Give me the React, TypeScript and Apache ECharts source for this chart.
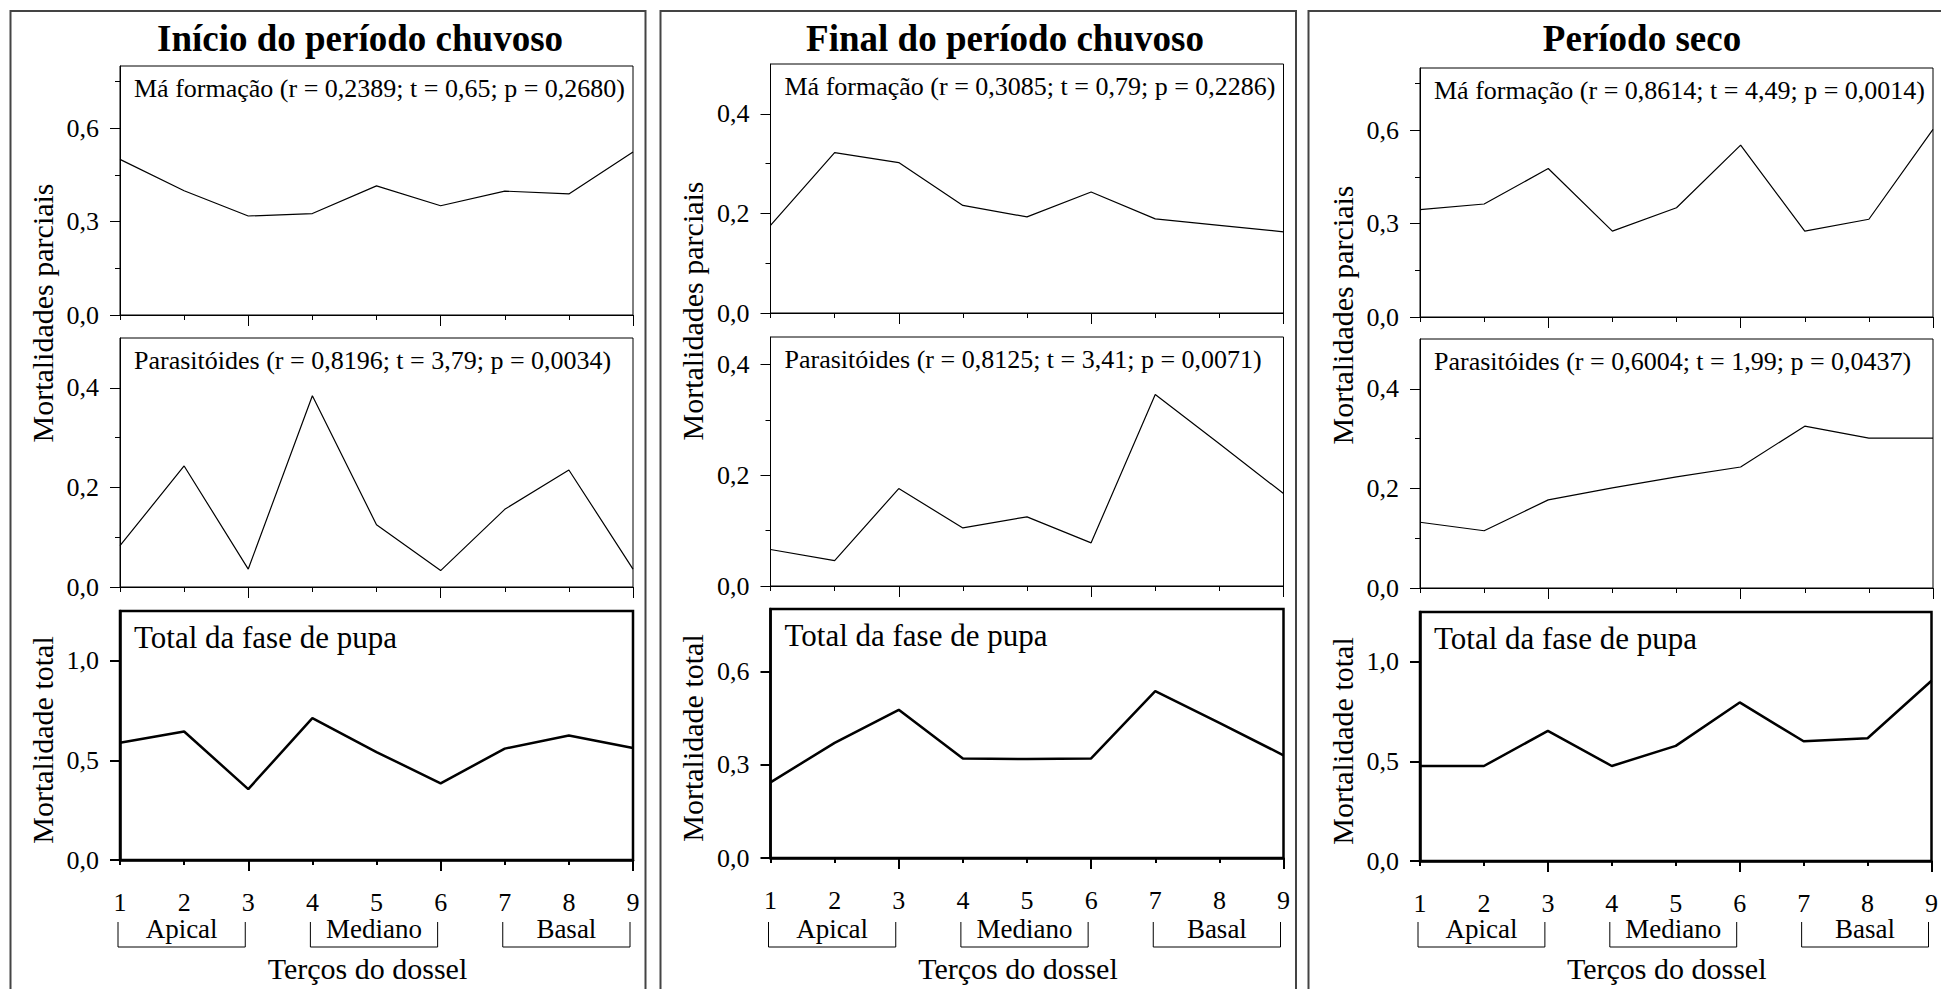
import React, { useEffect, useRef } from 'react';
import * as echarts from 'echarts';

// ---------- data ----------
const TERCOS = [1, 2, 3, 4, 5, 6, 7, 8, 9];
const PERIODOS = ['Início do período chuvoso', 'Final do período chuvoso', 'Período seco'];
const GRUPOS = ['Apical', 'Mediano', 'Basal'];
const GRUPO_LIMITES = [[1, 3], [4, 6], [7, 9]];
const EIXO_X_NOME = 'Terços do dossel';
const EIXO_Y_PARCIAL = 'Mortalidades parciais';
const EIXO_Y_TOTAL = 'Mortalidade total';
const TITULO_TOTAL = 'Total da fase de pupa';

const inicioMaFormacao = [0.5, 0.399, 0.318, 0.326, 0.415, 0.351, 0.398, 0.389, 0.524];
const inicioParasitoides = [0.083, 0.243, 0.036, 0.384, 0.125, 0.033, 0.156, 0.235, 0.036];
const inicioTotal = [0.589, 0.645, 0.356, 0.712, 0.542, 0.385, 0.559, 0.625, 0.562];

const finalMaFormacao = [0.176, 0.322, 0.302, 0.216, 0.193, 0.243, 0.189, 0.176, 0.163];
const finalParasitoides = [0.066, 0.046, 0.176, 0.105, 0.125, 0.078, 0.346, 0.257, 0.167];
const finalTotal = [0.243, 0.37, 0.476, 0.32, 0.318, 0.32, 0.536, 0.434, 0.33];

const secoMaFormacao = [0.345, 0.363, 0.477, 0.276, 0.351, 0.552, 0.276, 0.314, 0.603];
const secoParasitoides = [0.132, 0.115, 0.177, 0.201, 0.223, 0.243, 0.325, 0.301, 0.301];
const secoTotal = [0.477, 0.477, 0.653, 0.477, 0.578, 0.796, 0.601, 0.616, 0.905];

const ROTULOS_MA = [
  'Má formação (r = 0,2389; t = 0,65; p = 0,2680)',
  'Má formação (r = 0,3085; t = 0,79; p = 0,2286)',
  'Má formação (r = 0,8614; t = 4,49; p = 0,0014)',
];
const ROTULOS_PAR = [
  'Parasitóides (r = 0,8196; t = 3,79; p = 0,0034)',
  'Parasitóides (r = 0,8125; t = 3,41; p = 0,0071)',
  'Parasitóides (r = 0,6004; t = 1,99; p = 0,0437)',
];

const SERIES = [
  [inicioMaFormacao, inicioParasitoides, inicioTotal],
  [finalMaFormacao, finalParasitoides, finalTotal],
  [secoMaFormacao, secoParasitoides, secoTotal],
];

// y scales (per panel, per row)
const Y_MAX = [
  [0.8, 0.5, 1.25],
  [0.5, 0.45, 0.8],
  [0.8, 0.5, 1.25],
];
const Y_LABELS = [
  [[0, 0.3, 0.6], [0, 0.2, 0.4], [0, 0.5, 1.0]],
  [[0, 0.2, 0.4], [0, 0.2, 0.4], [0, 0.3, 0.6]],
  [[0, 0.3, 0.6], [0, 0.2, 0.4], [0, 0.5, 1.0]],
];
const Y_MINOR = [
  [[0.15, 0.45, 0.75], [0.1, 0.3], []],
  [[0.1, 0.3], [0.1, 0.3], []],
  [[0.15, 0.45, 0.75], [0.1, 0.3], []],
];
const X_MAJOR = [3, 6, 9];
const X_MINOR = [1, 2, 4, 5, 7, 8];

// ---------- layout ----------
const FONT = 'Liberation Serif, Times New Roman, Times, serif';
const PLOT_LEFT = [120, 770.5, 1420];
const PLOT_W = 513;
const ROW_TOP = [
  [66, 338, 611],
  [64, 337, 609],
  [68, 339, 612],
];
const ROW_H = 249;
const PANEL_BOX = [
  [10.5, 635],
  [660.5, 635.5],
  [1308.5, 700],
];
const TITLE_X = [360, 1005, 1642];

const fmtY = (v: number) => v.toFixed(1).replace('.', ',');

function buildOption() {
  const grid: any[] = [];
  const xAxis: any[] = [];
  const yAxis: any[] = [];
  const series: any[] = [];
  for (let p = 0; p < 3; p++) {
    for (let r = 0; r < 3; r++) {
      const g = p * 3 + r;
      const bottom = r === 2;
      const w = bottom ? 2.5 : 1;
      grid.push({
        left: PLOT_LEFT[p],
        top: ROW_TOP[p][r],
        width: PLOT_W,
        height: ROW_H,
        show: true,
        borderColor: '#000',
        borderWidth: w,
        backgroundColor: 'transparent',
      });
      xAxis.push({
        type: 'value',
        gridIndex: g,
        position: 'bottom',
        min: 1,
        max: 9,
        interval: 1,
        axisLine: { show: true, onZero: false, lineStyle: { color: '#000', width: w } },
        axisTick: { show: true, inside: false, length: 11, customValues: X_MAJOR, lineStyle: { color: '#000', width: bottom ? 2 : 1 } },
        axisLabel: {
          show: bottom,
          customValues: TERCOS,
          margin: 29,
          color: '#000',
          fontFamily: FONT,
          fontSize: 26,
          formatter: (v: number) => String(v),
        },
        splitLine: { show: false },
      });
      xAxis.push({
        type: 'value',
        gridIndex: g,
        position: 'bottom',
        min: 1,
        max: 9,
        interval: 1,
        axisLine: { show: false, onZero: false },
        axisTick: { show: true, inside: false, length: 5, customValues: X_MINOR, lineStyle: { color: '#000', width: bottom ? 2 : 1 } },
        axisLabel: { show: false },
        splitLine: { show: false },
      });
      yAxis.push({
        type: 'value',
        gridIndex: g,
        position: 'left',
        min: 0,
        max: Y_MAX[p][r],
        axisLine: { show: true, onZero: false, lineStyle: { color: '#000', width: w } },
        axisTick: { show: true, inside: false, length: 10, customValues: Y_LABELS[p][r], lineStyle: { color: '#000', width: bottom ? 2 : 1 } },
        axisLabel: {
          show: true,
          customValues: Y_LABELS[p][r],
          margin: 21,
          color: '#000',
          fontFamily: FONT,
          fontSize: 26,
          formatter: fmtY,
        },
        splitLine: { show: false },
      });
      yAxis.push({
        type: 'value',
        gridIndex: g,
        position: 'left',
        min: 0,
        max: Y_MAX[p][r],
        axisLine: { show: false, onZero: false },
        axisTick: { show: Y_MINOR[p][r].length > 0, inside: false, length: 5, customValues: Y_MINOR[p][r].length ? Y_MINOR[p][r] : [0], lineStyle: { color: '#000', width: 1 } },
        axisLabel: { show: false },
        splitLine: { show: false },
      });
      series.push({
        type: 'line',
        xAxisIndex: 2 * g,
        yAxisIndex: 2 * g,
        data: TERCOS.map((x, i) => [x, SERIES[p][r][i]]),
        showSymbol: false,
        symbol: 'none',
        silent: true,
        lineStyle: { color: '#000', width: bottom ? 2.5 : 1.2 },
        z: 3,
      });
    }
  }
  return {
    animation: false,
    backgroundColor: '#fff',
    grid,
    xAxis,
    yAxis,
    series,
  };
}

function buildGraphics(chart: any) {
  const els: any[] = [];
  const txt = (x: number, y: number, text: string, size: number, extra: any = {}, rot = 0) => ({
    type: 'text',
    x,
    y,
    rotation: rot,
    silent: true,
    style: {
      text,
      fill: '#000',
      fontFamily: FONT,
      fontSize: size,
      align: 'left',
      verticalAlign: 'middle',
      ...extra,
    },
  });
  for (let p = 0; p < 3; p++) {
    const [bx, bw] = PANEL_BOX[p];
    els.push({
      type: 'rect',
      silent: true,
      shape: { x: bx, y: 11, width: bw, height: 1000 },
      style: { fill: 'none', stroke: '#444', lineWidth: 2 },
    });
    els.push(txt(TITLE_X[p], 38, PERIODOS[p], 37, { fontWeight: 'bold', align: 'center' }));
    const left = PLOT_LEFT[p];
    els.push(txt(left + 14, ROW_TOP[p][0] + 22, ROTULOS_MA[p], 26));
    els.push(txt(left + 14, ROW_TOP[p][1] + 22, ROTULOS_PAR[p], 26));
    els.push(txt(left + 14, ROW_TOP[p][2] + 26, TITULO_TOTAL, 31));
    els.push(txt(left - 78, ROW_TOP[p][0] + 247, EIXO_Y_PARCIAL, 30, { align: 'center' }, Math.PI / 2));
    els.push(txt(left - 78, ROW_TOP[p][2] + 129, EIXO_Y_TOTAL, 30, { align: 'center' }, Math.PI / 2));
    const xIdx = 2 * (p * 3 + 2);
    GRUPO_LIMITES.forEach(([a, b], k) => {
      const l = chart.convertToPixel({ xAxisIndex: xIdx }, a) - 2;
      const rr = chart.convertToPixel({ xAxisIndex: xIdx }, b) - 3;
      els.push({
        type: 'polyline',
        silent: true,
        shape: { points: [[l, 922], [l, 947], [rr, 947], [rr, 922]] },
        style: { stroke: '#000', lineWidth: 1, fill: 'none' },
      });
      els.push(txt((l + rr) / 2, 929, GRUPOS[k], 27, { align: 'center' }));
    });
    const c = (chart.convertToPixel({ xAxisIndex: xIdx }, 1) + chart.convertToPixel({ xAxisIndex: xIdx }, 9)) / 2;
    els.push(txt(c - 9, 968, EIXO_X_NOME, 30, { align: 'center' }));
  }
  return els;
}

export default function App() {
  const ref = useRef<HTMLDivElement>(null);
  useEffect(() => {
    const chart = echarts.init(ref.current as HTMLDivElement, null, { renderer: 'svg' });
    chart.setOption(buildOption() as any);
    chart.setOption({ graphic: buildGraphics(chart) } as any);
    return () => chart.dispose();
  }, []);
  return (
    <div
      ref={ref}
      style={{ position: 'fixed', left: 0, top: 0, width: 1941, height: 989, background: '#fff' }}
    />
  );
}
